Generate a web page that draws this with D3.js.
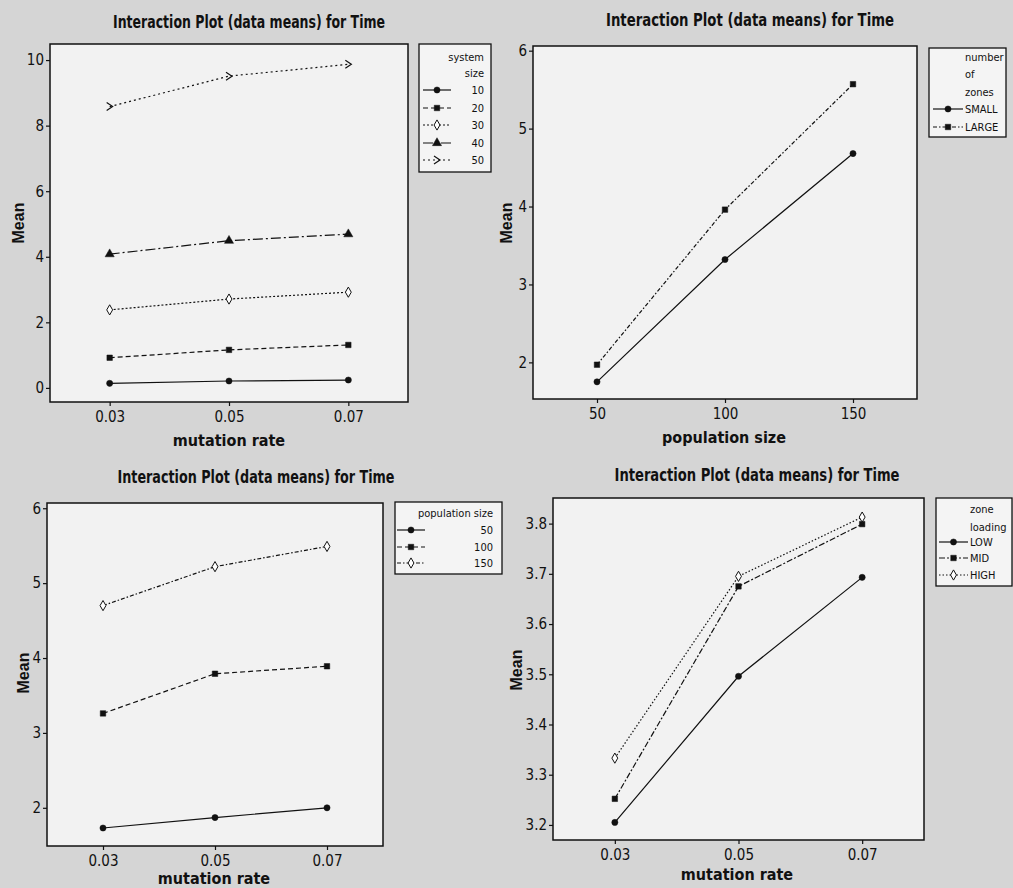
<!DOCTYPE html>
<meta charset="utf-8">
<head>
<style>
  body { margin: 0; background: #d5d5d5; }
  text { font-family: "Liberation Sans Narrow", "DejaVu Sans Condensed", "Arial Narrow", sans-serif; fill: #111; }
  .frame { fill: #f2f2f2; stroke: #111; stroke-width: 1.5px; }
  .legend-box { fill: #f4f4f4; stroke: #111; stroke-width: 1.3px; }
  .title { font-weight: bold; font-size: 18px; }
  .axis-label { font-weight: bold; font-size: 16px; }
  .mean-label { font-family: "Liberation Sans", "DejaVu Sans", sans-serif; font-weight: bold; font-size: 16px; }
  .legend text { font-size: 11px; }
</style>
</head>
<body>
<div id="chart"></div>
<script src="https://d3js.org/d3.v7.min.js"></script>
<script>
// values
var mutationRates = [0.03, 0.05, 0.07];
var populationSizes = [50, 100, 150];

var systemSizes = ["10", "20", "30", "40", "50"];
var meanBySystemSize = [
  [0.14, 0.21, 0.24],
  [0.92, 1.16, 1.31],
  [2.38, 2.71, 2.92],
  [4.08, 4.49, 4.69],
  [8.58, 9.51, 9.87]
];

var zoneCounts = ["SMALL", "LARGE"];
var meanByZoneCount = [
  [1.75, 3.32, 4.68],
  [1.97, 3.96, 5.57]
];

var popSizeLevels = ["50", "100", "150"];
var meanByPopSize = [
  [1.73, 1.87, 2.00],
  [3.26, 3.79, 3.89],
  [4.70, 5.22, 5.49]
];

var zoneLoadings = ["LOW", "MID", "HIGH"];
var meanByZoneLoading = [
  [3.205, 3.496, 3.693],
  [3.252, 3.675, 3.799],
  [3.333, 3.695, 3.813]
];

var ticksSystem = [0, 2, 4, 6, 8, 10];
var ticksZoneCount = [2, 3, 4, 5, 6];
var ticksPopSize = [2, 3, 4, 5, 6];
var ticksZoneLoading = [3.2, 3.3, 3.4, 3.5, 3.6, 3.7, 3.8];

// line / symbol look of each series (Minitab default order)
var seriesStyles = [
  {dash: null, mark: "circle"},
  {dash: "5,3", mark: "square"},
  {dash: "2,2", mark: "diamond"},
  {dash: "10,3,2,3", mark: "triangle"},
  {dash: "2,3", mark: "chevron"}
];

var svg = d3.select("#chart")
  .append("svg")
    .attr("width", 1013)
    .attr("height", 888);

function drawMarker(sel, kind) {
  if (kind === "chevron") {
    sel.append("path")
      .attr("d", "M-3,-4L3,0L-3,4")
      .attr("fill", "none")
      .attr("stroke", "#111")
      .attr("stroke-width", 1.2);
    return;
  }
  var types = {circle: d3.symbolCircle, square: d3.symbolSquare, diamond: d3.symbolDiamond, triangle: d3.symbolTriangle};
  var sizes = {circle: 30, square: 30, diamond: 30, triangle: 36};
  var open = kind === "diamond";
  sel.append("path")
    .attr("d", d3.symbol().type(types[kind]).size(sizes[kind]))
    .attr("fill", open ? "#fff" : "#111")
    .attr("stroke", "#111")
    .attr("stroke-width", open ? 1 : 0.5);
}

function drawPanel(p) {
  var g = svg.append("g");
  var f = p.frame;
  var x = d3.scaleLinear().domain(p.xDomain).range([f.x, f.x + f.w]);
  var y = d3.scaleLinear().domain(p.yDomain).range([f.y + f.h, f.y]);

  g.append("rect")
    .attr("class", "frame")
    .attr("x", f.x).attr("y", f.y)
    .attr("width", f.w).attr("height", f.h);

  // axes
  var xAxis = g.append("g")
    .attr("transform", "translate(0," + (f.y + f.h) + ")")
    .call(d3.axisBottom(x).tickValues(p.xTicks).tickFormat(p.xFormat).tickSize(4).tickPadding(5));
  var yAxis = g.append("g")
    .attr("transform", "translate(" + f.x + ",0)")
    .call(d3.axisLeft(y).tickValues(p.yTicks).tickFormat(p.yFormat).tickSize(4).tickPadding(2));
  [xAxis, yAxis].forEach(function(a) {
    a.select(".domain").remove();
    a.attr("font-family", null).attr("font-size", null);
    a.selectAll("text").style("font-size", "15px").attr("fill", "#111");
    a.selectAll("line").attr("stroke", "#111").attr("stroke-width", 1.2);
  });

  // titles
  g.append("text")
    .attr("class", "title")
    .attr("x", p.titlePos[0]).attr("y", p.titlePos[1])
    .attr("text-anchor", "middle")
    .attr("textLength", p.titleWidth)
    .attr("lengthAdjust", "spacingAndGlyphs")
    .text("Interaction Plot (data means) for Time");
  g.append("text")
    .attr("class", "axis-label")
    .attr("x", p.xLabelPos[0]).attr("y", p.xLabelPos[1])
    .attr("text-anchor", "middle")
    .text(p.xLabel);
  g.append("text")
    .attr("class", "mean-label")
    .attr("transform", "translate(" + p.yLabelPos[0] + "," + p.yLabelPos[1] + ") rotate(-90)")
    .attr("text-anchor", "middle")
    .attr("dy", "0.35em")
    .text("Mean");

  // lines + points
  var line = d3.line()
    .x(function(d, i) { return x(p.xValues[i]); })
    .y(function(d) { return y(d); });
  var series = g.selectAll(".series")
    .data(p.values)
    .enter()
    .append("g");
  series.append("path")
    .attr("d", function(d) { return line(d); })
    .attr("fill", "none")
    .attr("stroke", "#111")
    .attr("stroke-width", 1.2)
    .attr("stroke-dasharray", function(d, i) { return p.styles[i].dash; });
  series.each(function(vals, i) {
    d3.select(this).selectAll(".pt")
      .data(vals)
      .enter()
      .append("g")
        .attr("transform", function(d, j) { return "translate(" + x(p.xValues[j]) + "," + y(d) + ")"; })
        .each(function() { drawMarker(d3.select(this), p.styles[i].mark); });
  });

  // legend
  var L = p.legend;
  var lg = g.append("g").attr("class", "legend");
  lg.append("rect")
    .attr("class", "legend-box")
    .attr("x", L.box[0]).attr("y", L.box[1])
    .attr("width", L.box[2]).attr("height", L.box[3]);
  L.header.forEach(function(h, k) {
    lg.append("text")
      .attr("x", L.headerX).attr("y", L.headerY[k])
      .attr("dy", "0.35em")
      .attr("text-anchor", L.headerAnchor)
      .text(h);
  });
  p.levels.forEach(function(lev, k) {
    var yy = L.rowY[k];
    var row = lg.append("g");
    row.append("line")
      .attr("x1", L.sample[0]).attr("x2", L.sample[1])
      .attr("y1", yy).attr("y2", yy)
      .attr("stroke", "#111").attr("stroke-width", 1.2)
      .attr("stroke-dasharray", p.styles[k].dash);
    var m = row.append("g").attr("transform", "translate(" + ((L.sample[0] + L.sample[1]) / 2) + "," + yy + ")");
    drawMarker(m, p.styles[k].mark);
    row.append("text")
      .attr("x", L.labelX).attr("y", yy)
      .attr("dy", "0.35em")
      .attr("text-anchor", L.labelAnchor)
      .text(lev);
  });
}

var fmt2 = d3.format(".2f");

drawPanel({
  frame: {x: 50, y: 44, w: 358, h: 358},
  xDomain: [0.02, 0.08], yDomain: [-0.43, 10.49],
  xValues: mutationRates, xTicks: mutationRates, xFormat: fmt2,
  yTicks: ticksSystem, yFormat: d3.format("d"),
  values: meanBySystemSize, levels: systemSizes, styles: seriesStyles,
  titlePos: [249, 28], titleWidth: 272,
  xLabel: "mutation rate", xLabelPos: [229, 446], yLabelPos: [18, 223],
  legend: {box: [419, 44, 72, 128], header: ["system", "size"], headerX: 484, headerY: [57, 73], headerAnchor: "end",
           rowY: [90, 108, 125, 143, 160], sample: [423, 451], labelX: 484, labelAnchor: "end"}
});

drawPanel({
  frame: {x: 533, y: 46, w: 384, h: 353},
  xDomain: [25, 175], yDomain: [1.53, 6.06],
  xValues: populationSizes, xTicks: populationSizes, xFormat: d3.format("d"),
  yTicks: ticksZoneCount, yFormat: d3.format("d"),
  values: meanByZoneCount, levels: zoneCounts, styles: [seriesStyles[0], {dash: "4,2,1.5,2", mark: "square"}],
  titlePos: [750, 26], titleWidth: 288,
  xLabel: "population size", xLabelPos: [724, 443], yLabelPos: [506, 223],
  legend: {box: [929, 48, 77, 89], header: ["number", "of", "zones"], headerX: 965, headerY: [57, 74, 92], headerAnchor: "start",
           rowY: [109, 127], sample: [933, 963], labelX: 965, labelAnchor: "start"}
});

drawPanel({
  frame: {x: 47, y: 503, w: 336, h: 343},
  xDomain: [0.02, 0.08], yDomain: [1.49, 6.07],
  xValues: mutationRates, xTicks: mutationRates, xFormat: fmt2,
  yTicks: ticksPopSize, yFormat: d3.format("d"),
  values: meanByPopSize, levels: popSizeLevels, styles: [seriesStyles[0], seriesStyles[1], {dash: "4,2,1.5,2", mark: "diamond"}],
  titlePos: [256, 483], titleWidth: 277,
  xLabel: "mutation rate", xLabelPos: [214, 884], yLabelPos: [23, 673],
  legend: {box: [395, 502, 107, 72], header: ["population size"], headerX: 493, headerY: [513], headerAnchor: "end",
           rowY: [530, 547, 563], sample: [397, 425], labelX: 493, labelAnchor: "end"}
});

drawPanel({
  frame: {x: 553, y: 498, w: 371, h: 342},
  xDomain: [0.02, 0.08], yDomain: [3.170, 3.851],
  xValues: mutationRates, xTicks: mutationRates, xFormat: fmt2,
  yTicks: ticksZoneLoading, yFormat: d3.format(".1f"),
  values: meanByZoneLoading, levels: zoneLoadings, styles: [seriesStyles[0], {dash: "6,2,2,2", mark: "square"}, {dash: "1.5,2", mark: "diamond"}],
  titlePos: [757, 481], titleWidth: 285,
  xLabel: "mutation rate", xLabelPos: [737, 880], yLabelPos: [516, 670],
  legend: {box: [936, 498, 76, 88], header: ["zone", "loading"], headerX: 970, headerY: [509, 527], headerAnchor: "start",
           rowY: [542, 558, 575], sample: [939, 968], labelX: 970, labelAnchor: "start"}
});
</script>
</body>
